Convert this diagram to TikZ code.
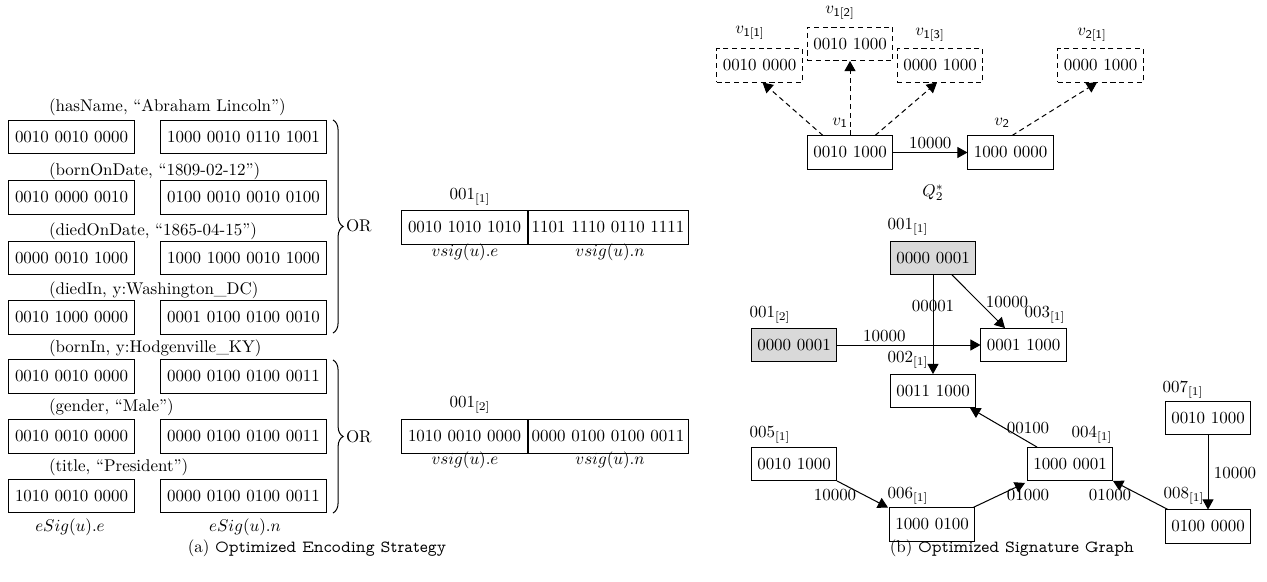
\documentclass[tikz,border=0pt]{standalone}
\usetikzlibrary{arrows.meta,calc,decorations.pathreplacing}
\definecolor{shade}{HTML}{D9D9D9}
\newcommand{\capfont}{\fontfamily{lmvtt}\selectfont}
\begin{document}
\begin{tikzpicture}[x=0.59pt,y=-0.59pt,
  every node/.style={inner sep=0pt,outer sep=0pt},
  bitbox/.style={draw,line width=0.6pt,minimum height=19.5pt,align=center},
  ebox/.style={bitbox,minimum width=74.9pt},
  nbox/.style={bitbox,minimum width=98.5pt},
  vnbox/.style={bitbox,minimum width=94.4pt},
  gbox/.style={draw,line width=0.6pt,minimum width=50.7pt,minimum height=20pt},
  qbox/.style={gbox,dash pattern=on 3pt off 2.2pt},
  hbox/.style={gbox,fill=shade},
  pair/.style={anchor=west},
  arr/.style={line width=0.6pt,-{Triangle[length=6pt,width=6.5pt]}},
  darr/.style={arr,dash pattern=on 3pt off 2.2pt},
  brc/.style={decorate,line width=0.6pt,decoration={brace,amplitude=6pt}}]
\useasboundingbox (0,0) rectangle (1267,581);

% ---------- (a) encoding of the entity signatures ----------
\node[pair] (p1) at (49,107) {(hasName, ``Abraham Lincoln'')};
\node[ebox] (e1) at (71.5,137) {0010 0010 0000};
\node[nbox] (n1) at (243.5,137) {1000 0010 0110 1001};
\node[pair] (p2) at (49,171) {(bornOnDate, ``1809-02-12'')};
\node[ebox] (e2) at (71.5,197.5) {0010 0000 0010};
\node[nbox] (n2) at (243.5,197.5) {0100 0010 0010 0100};
\node[pair] (p3) at (49,231) {(diedOnDate, ``1865-04-15'')};
\node[ebox] (e3) at (71.5,258) {0000 0010 1000};
\node[nbox] (n3) at (243.5,258) {1000 1000 0010 1000};
\node[pair] (p4) at (49,290) {(diedIn, y:Washington\_DC)};
\node[ebox] (e4) at (71.5,317.5) {0010 1000 0000};
\node[nbox] (n4) at (243.5,317.5) {0001 0100 0100 0010};
\node[pair] (p5) at (49,348) {(bornIn, y:Hodgenville\_KY)};
\node[ebox] (e5) at (71.5,376.5) {0010 0010 0000};
\node[nbox] (n5) at (243.5,376.5) {0000 0100 0100 0011};
\node[pair] (p6) at (49,407) {(gender, ``Male'')};
\node[ebox] (e6) at (71.5,436.5) {0010 0010 0000};
\node[nbox] (n6) at (243.5,436.5) {0000 0100 0100 0011};
\node[pair] (p7) at (49,467) {(title, ``President'')};
\node[ebox] (e7) at (71.5,496) {1010 0010 0000};
\node[nbox] (n7) at (243.5,496) {0000 0100 0100 0011};
\node (el) at (70,527) {$eSig(u).e$};
\node (nl) at (245,527) {$eSig(u).n$};

\coordinate (b1t) at (333,120);
\coordinate (b1b) at (333,333);
\coordinate (b2t) at (333,360);
\coordinate (b2b) at (333,513);
\draw[brc] (b1t) -- (b1b);
\draw[brc] (b2t) -- (b2b);
\node[anchor=west] (or1) at (346,226) {OR};
\node[anchor=west] (or2) at (346,436.5) {OR};

\node (u1) at (470,197) {001$_{[1]}$};
\node[ebox] (ve1) at (464.5,227.5) {0010 1010 1010};
\node[vnbox] (vn1) at (608,227.5) {1101 1110 0110 1111};
\node (vl1) at (465,252) {$vsig(u).e$};
\node (vm1) at (610,252) {$vsig(u).n$};

\node (u2) at (470,405) {001$_{[2]}$};
\node[ebox] (ve2) at (464.5,436.5) {1010 0010 0000};
\node[vnbox] (vn2) at (608,436.5) {0000 0100 0100 0011};
\node (vl2) at (465,460) {$vsig(u).e$};
\node (vm2) at (610,460) {$vsig(u).n$};

\node (capa) at (317,548) {(a) {\capfont Optimized Encoding Strategy}};

% ---------- (b) query graph ----------
\node[qbox] (v11) at (759.5,65.5) {0010 0000};
\node[qbox] (v12) at (850,44) {0010 1000};
\node[qbox] (v13) at (940,65.5) {0000 1000};
\node[qbox] (v21) at (1100.5,65.5) {0000 1000};
\node[gbox] (v1) at (850,152.5) {0010 1000};
\node[gbox] (v2) at (1010.5,152.5) {1000 0000};
\node (lv11) at (750,33) {$v_{\mathsf{1[1]}}$};
\node (lv12) at (840,13) {$v_{\mathsf{1[2]}}$};
\node (lv13) at (930,35) {$v_{\mathsf{1[3]}}$};
\node (lv21) at (1092,35) {$v_{\mathsf{2[1]}}$};
\node (lv1) at (840,123) {$v_{\mathsf{1}}$};
\node (lv2) at (1002,123) {$v_{\mathsf{2}}$};

\draw[darr] ($(v1.north)+(-27,0)$) -- ($(v11.south)+(3,0)$);
\draw[darr] (v1.north) -- (v12.south);
\draw[darr] ($(v1.north)+(25,0)$) -- ($(v13.south)+(-3,0)$);
\draw[darr] ($(v2.north)+(1.5,0)$) -- ($(v21.south)+(-3.5,0)$);
\draw[arr] (v1.east) -- node[above=2pt] {10000} (v2.west);
\node (q2) at (933,193) {$Q_2^*$};

% ---------- (b) signature graph ----------
\node[hbox] (g1) at (933,258) {0000 0001};
\node[hbox] (g2) at (794,345) {0000 0001};
\node[gbox] (g3) at (1023.5,345) {0001 1000};
\node[gbox] (g4) at (933,391) {0011 1000};
\node[gbox] (g9) at (1208,418) {0010 1000};
\node[gbox] (g6) at (794,464) {0010 1000};
\node[gbox] (g5) at (1070,464) {1000 0001};
\node[gbox] (g7) at (932,524.5) {1000 0100};
\node[gbox] (g8) at (1208,526.5) {0100 0000};

\node (lg1) at (908,227) {001$_{[1]}$};
\node (lg2) at (770,315) {001$_{[2]}$};
\node (lg3) at (1045,315) {003$_{[1]}$};
\node (lg4) at (908,360) {002$_{[1]}$};
\node (lg9) at (1183,390) {007$_{[1]}$};
\node (lg6) at (770,435) {005$_{[1]}$};
\node (lg5) at (1092,435) {004$_{[1]}$};
\node (lg7) at (908,496) {006$_{[1]}$};
\node (lg8) at (1184,496) {008$_{[1]}$};

\draw[arr] (g1.south) -- (g4.north);
\node (w1) at (933,306) {00001};
\draw[arr] ($(g1.south)+(19,0)$) -- ($(g3.north)+(-18.5,0)$);
\node (w2) at (1007,302) {10000};
\draw[arr] (g2.east) -- node[pos=0.33,above=2pt] {10000} (g3.west);
\draw[arr] ($(g5.north)+(-33,0)$) -- ($(g4.south)+(37,0)$);
\node (w3) at (1028,428) {00100};
\draw[arr] (g6.south east) -- ($(g7.north west)+(-1,0)$);
\node (w4) at (835,495) {10000};
\draw[arr] ($(g7.north east)+(-2,0)$) -- ($(g5.south west)+(-2,2)$);
\node (w5) at (1028,495) {01000};
\draw[arr] ($(g8.north west)+(3,0)$) -- (g5.south east);
\node (w6) at (1110,495) {01000};
\draw[arr] (g9.south) -- (g8.north);
\node (w7) at (1235,473) {10000};

\node (capb) at (1012,548) {(b) {\capfont Optimized Signature Graph}};
\end{tikzpicture}
\end{document}
